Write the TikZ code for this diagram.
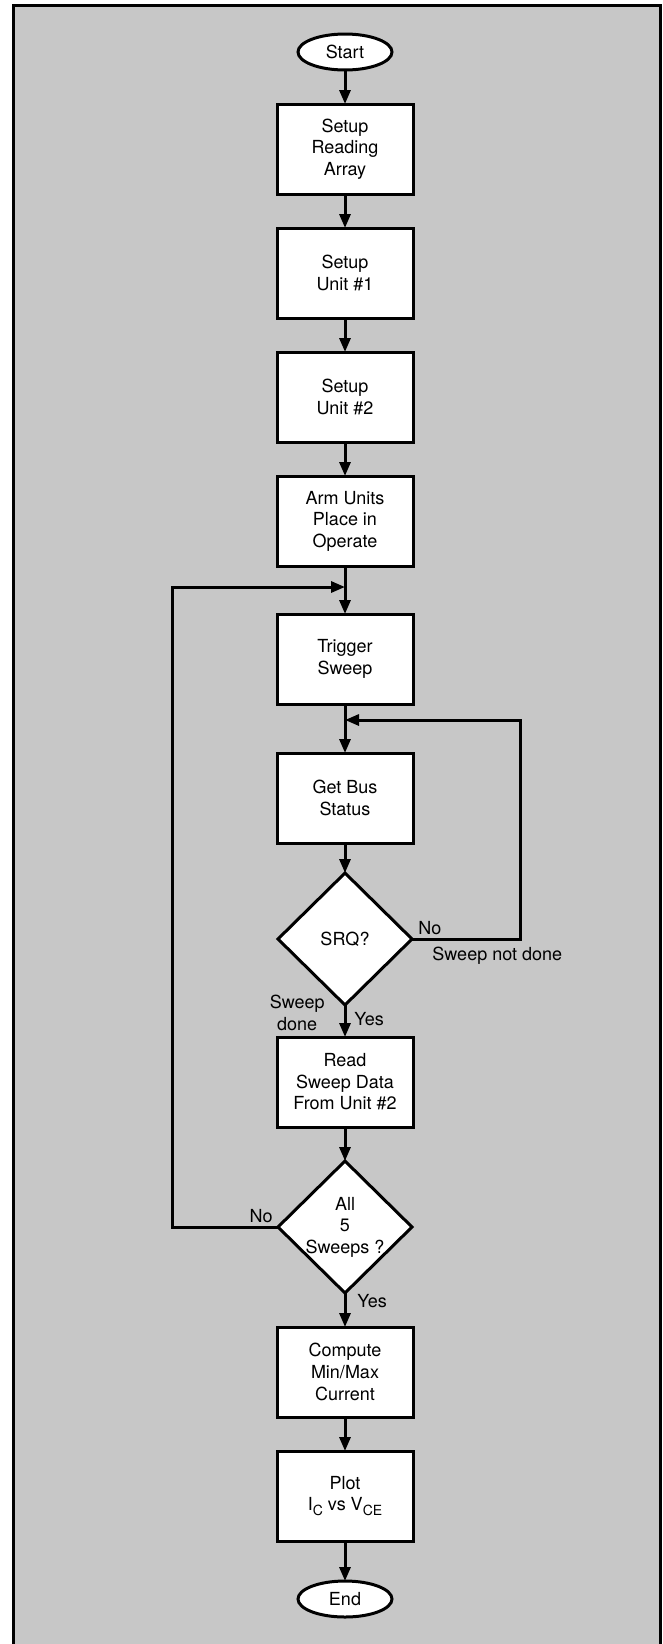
\documentclass[tikz,border=0pt]{standalone}
\usepackage{fontspec}
\setmainfont{TeX Gyre Heros}
\usepackage{tikz}
\usetikzlibrary{arrows.meta, positioning, shapes.geometric}

\newcommand{\flowfont}{\fontsize{9}{10.8}\selectfont}
\newcommand{\lowsub}[1]{\raisebox{-2.3pt}{\fontsize{7}{8}\selectfont #1}}

\begin{document}
\begin{tikzpicture}[
  proc/.style = {
    draw, line width=1.5pt, fill=white, outer sep=0pt,
    minimum width=68pt, minimum height=45pt,
    align=center, inner sep=1pt, font=\flowfont
  },
  term/.style = {
    draw, ellipse, line width=1.5pt, fill=white, outer sep=0pt,
    minimum width=47pt, minimum height=18pt, inner sep=0pt, font=\flowfont
  },
  test/.style = {
    draw, diamond, aspect=1, line width=1.5pt, fill=white, outer sep=0pt,
    minimum width=67pt, minimum height=66pt, inner sep=-1pt,
    align=center, font=\flowfont
  },
  tag/.style = {inner sep=1pt, align=center, font=\flowfont},
  arr/.style = {-{Triangle[length=7pt,width=5.5pt]}, line width=1.5pt},
  node distance = 17pt
]

\useasboundingbox (0,0) rectangle (331.5pt,-822pt);

% screened background and frame
\fill[black!22] (6.5pt,-2.5pt) rectangle (330pt,-822pt);
\draw[line width=1.5pt] (6.5pt,-822pt) -- (6.5pt,-2.5pt) -- (330pt,-2.5pt) -- (330pt,-822pt);

\node[term] (start) at (172.5pt,-26pt) {Start};
\node[proc, below=of start]  (array) {Setup\\Reading\\Array};
\node[proc, below=of array]  (unit1) {Setup\\Unit \#1};
\node[proc, below=of unit1]  (unit2) {Setup\\Unit \#2};
\node[proc, below=of unit2]  (arm)   {Arm Units\\Place in\\Operate};
\node[proc, below=24pt of arm]    (trig) {Trigger\\Sweep};
\node[proc, below=24.5pt of trig] (bus)  {Get Bus\\Status};
\node[test, below=15pt of bus]    (srq)  {SRQ?};
\node[proc, below=16pt of srq]    (read) {Read\\Sweep Data\\From Unit \#2};
\node[test, below=17pt of read]   (all)  {All\\5\\Sweeps ?};
\node[proc, below=17pt of all]    (minmax) {Compute\\Min/Max\\Current};
\node[proc, below=17pt of minmax] (plot) {Plot\\I\lowsub{C} vs V\lowsub{CE}};
\node[term, below=20pt of plot]   (end)  {End};

\coordinate (j1) at ([yshift=-10.5pt]arm.south);
\coordinate (j2) at ([yshift=-8pt]trig.south);

\draw[arr] (start) -- (array);
\draw[arr] (array) -- (unit1);
\draw[arr] (unit1) -- (unit2);
\draw[arr] (unit2) -- (arm);
\draw[arr] (arm) -- (trig);
\draw[arr] (trig) -- (bus);
\draw[arr] (bus) -- (srq);
\draw[arr] (srq) -- (read);
\draw[arr] (read) -- (all);
\draw[arr] (all) -- (minmax);
\draw[arr] (minmax) -- (plot);
\draw[arr] (plot) -- (end);

% loops back
\draw[arr] (srq.east) -- ++(54pt,0) |- (j2);
\draw[arr] (all.west) -- ++(-53pt,0) |- (j1);

\node[tag, anchor=south west] (srqno)   at ([xshift=2pt,yshift=1pt]srq.east) {No};
\node[tag, anchor=north west] (srqnot)  at ([xshift=9pt,yshift=-3pt]srq.east) {Sweep not done};
\node[tag, anchor=east]       (srqdone) at ([xshift=-9pt,yshift=-4pt]srq.south) {Sweep\\done};
\node[tag, anchor=west]       (srqyes)  at ([xshift=3.5pt,yshift=-7pt]srq.south) {Yes};
\node[tag, anchor=south east] (allno)   at ([xshift=-1.5pt,yshift=1pt]all.west) {No};
\node[tag, anchor=west]       (allyes)  at ([xshift=5pt,yshift=-4pt]all.south) {Yes};

\end{tikzpicture}
\end{document}
